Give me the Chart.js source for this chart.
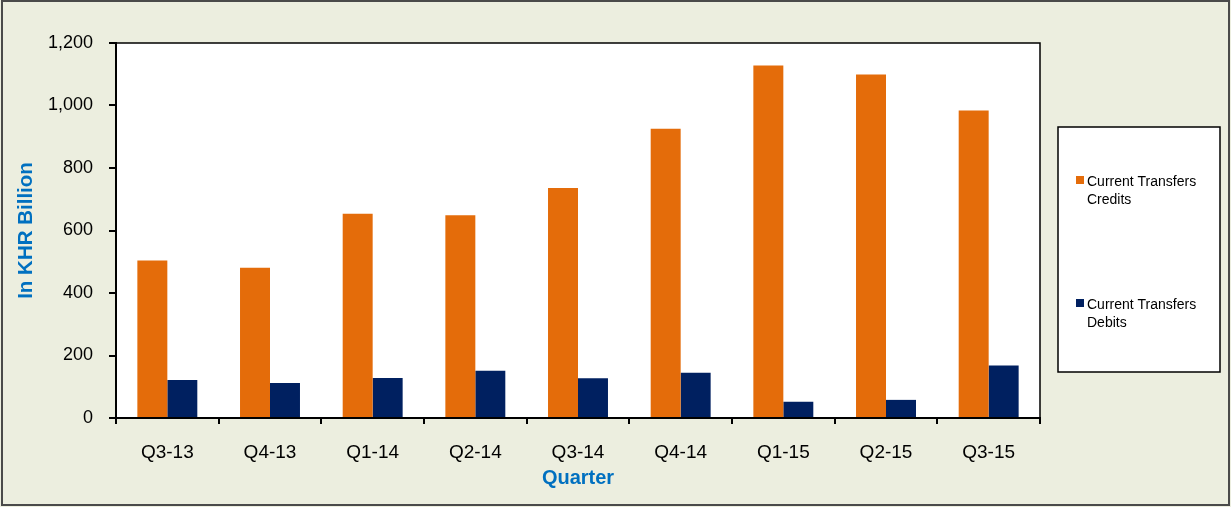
<!DOCTYPE html>
<html>
<head>
<meta charset="utf-8">
<script src="https://cdn.jsdelivr.net/npm/chart.js@4.4.0/dist/chart.umd.min.js"></script>
<style>
  html, body { margin: 0; padding: 0; background: #ECEEDF; }
  #wrap { position: absolute; left: 0; top: 0; width: 1231px; height: 507px; }
</style>
</head>
<body>
<div id="wrap"><canvas id="chart" width="1231" height="507"></canvas></div>
<script>
// Data
const quarters = ['Q3-13', 'Q4-13', 'Q1-14', 'Q2-14', 'Q3-14', 'Q4-14', 'Q1-15', 'Q2-15', 'Q3-15'];
const credits = [504, 481, 654, 649, 736, 926, 1128, 1099, 984];
const debits = [122, 112, 128, 151, 127, 145, 52, 58, 168];
const seriesNames = ['Current Transfers Credits', 'Current Transfers Debits'];
const yTicks = [0, 200, 400, 600, 800, 1000, 1200];

const FONT = "'Liberation Sans', Arial, sans-serif";
const ORANGE = '#E46C0A';
const NAVY = '#002060';
const BLUE = '#0070C0';

// background, plot fill, outer frame
const framePlugin = {
    id: 'frame',
    beforeDraw(chart) {
        const { ctx, chartArea: a } = chart;
        ctx.save();
        ctx.fillStyle = '#ECEEDF';
        ctx.fillRect(0, 0, chart.width, chart.height);
        ctx.fillStyle = '#ffffff';
        ctx.fillRect(a.left, a.top, a.right - a.left, a.bottom - a.top);
        ctx.restore();
    },
    afterDraw(chart) {
        const { ctx, chartArea: a } = chart;
        ctx.save();
        // plot box
        ctx.strokeStyle = '#000';
        ctx.lineWidth = 1.5;
        ctx.beginPath();
        ctx.moveTo(a.left, a.top);
        ctx.lineTo(a.right, a.top);
        ctx.lineTo(a.right, a.bottom);
        ctx.stroke();
        // outer frame
        ctx.strokeStyle = '#4a4a4a';
        ctx.lineWidth = 2;
        ctx.strokeRect(2, 1, chart.width - 4, chart.height - 3);
        ctx.restore();
    }
};

// boxed legend on the right
const boxLegend = {
    id: 'boxLegend',
    afterDraw(chart) {
        const { ctx } = chart;
        const box = { x: 1058, y: 127, w: 162, h: 245 };
        const rows = [176, 299];
        ctx.save();
        ctx.fillStyle = '#ffffff';
        ctx.fillRect(box.x, box.y, box.w, box.h);
        ctx.strokeStyle = '#000';
        ctx.lineWidth = 1.5;
        ctx.strokeRect(box.x, box.y, box.w, box.h);
        ctx.font = '14px ' + FONT;
        ctx.textBaseline = 'alphabetic';
        chart.data.datasets.forEach((ds, i) => {
            const y = rows[i];
            ctx.fillStyle = ds.backgroundColor;
            ctx.fillRect(1076, y, 8, 8);
            ctx.fillStyle = '#000';
            const words = ds.label.split(' ');
            const lines = [];
            let cur = '';
            words.forEach(w => {
                const t = cur ? cur + ' ' + w : w;
                if (ctx.measureText(t).width > 125 && cur) { lines.push(cur); cur = w; }
                else cur = t;
            });
            lines.push(cur);
            lines.forEach((ln, k) => ctx.fillText(ln, 1087, y + 10 + k * 17.5));
        });
        ctx.restore();
    }
};

new Chart(document.getElementById('chart').getContext('2d'), {
    type: 'bar',
    data: {
        labels: quarters,
        datasets: [
            { label: seriesNames[0], data: credits, backgroundColor: ORANGE },
            { label: seriesNames[1], data: debits, backgroundColor: NAVY }
        ]
    },
    options: {
        responsive: false,
        animation: false,
        devicePixelRatio: 1,
        layout: { padding: { left: 0, top: 43, right: 191, bottom: 0 } },
        datasets: { bar: { categoryPercentage: 0.584, barPercentage: 1.0 } },
        plugins: { legend: { display: false }, tooltip: { enabled: false } },
        scales: {
            x: {
                afterFit(s) { s.height = 89; },
                grid: { offset: true, drawOnChartArea: false, drawTicks: true, tickLength: 6, color: '#000', lineWidth: 2 },
                border: { display: true, color: '#000', width: 2 },
                ticks: { color: '#000', font: { family: FONT, size: 19 }, padding: 17 },
                title: {
                    display: true, text: 'Quarter', color: BLUE,
                    font: { family: FONT, size: 20, weight: 'bold' },
                    padding: { top: 0, bottom: 17 }
                }
            },
            y: {
                min: 0, max: 1200,
                afterFit(s) { s.width = 116; },
                afterBuildTicks(s) { s.ticks = yTicks.map(v => ({ value: v })); },
                grid: { drawOnChartArea: false, drawTicks: true, tickLength: 7, color: '#000', lineWidth: 2 },
                border: { display: true, color: '#000', width: 2 },
                ticks: {
                    color: '#000', font: { family: FONT, size: 18 }, padding: 16,
                    callback: v => v.toLocaleString('en-US')
                },
                title: {
                    display: true, text: 'In KHR Billion', color: BLUE,
                    font: { family: FONT, size: 20.5, weight: 'bold' },
                    padding: { top: 14, bottom: 0 }
                }
            }
        }
    },
    plugins: [framePlugin, boxLegend]
});
</script>
</body>
</html>
